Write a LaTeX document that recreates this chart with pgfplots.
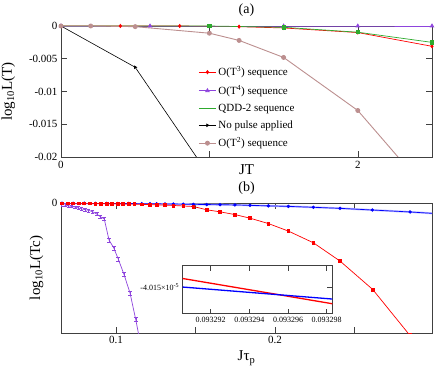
\documentclass[border=0pt]{standalone}
\usepackage{fontspec}
\setmainfont{Liberation Serif}
\usepackage{pgfplots}
\pgfplotsset{compat=1.18}
\definecolor{cred}{HTML}{FF0000}
\definecolor{cpurp}{HTML}{8E44DD}
\definecolor{cgreen}{HTML}{2EAA2E}
\definecolor{cpink}{HTML}{BC8F8F}
\definecolor{cblue}{HTML}{0000FF}
\definecolor{frame}{HTML}{404040}

% panel (b): blue series
\pgfplotstableread{
x y
0.0660 -0.001
0.0730 -0.002
0.0800 -0.002
0.0870 -0.003
0.0940 -0.003
0.1010 -0.004
0.1080 -0.004
0.1162 -0.005
0.1214 -0.005
0.1256 -0.006
0.1308 -0.007
0.1360 -0.008
0.1423 -0.009
0.1486 -0.010
0.1570 -0.012
0.1654 -0.013
0.1748 -0.015
0.1843 -0.018
0.1958 -0.022
0.2084 -0.026
0.2241 -0.033
0.2409 -0.041
0.2612 -0.054
0.2849 -0.069
0.3100 -0.088
}\blueB

\tikzset{twoend/.style={legend image code/.code={%
  \draw[mark repeat=1,#1] plot coordinates {(0pt,0pt) (16pt,0pt)};}}}
\pgfplotsset{every axis title shift=0pt,
  /pgf/number format/assume math mode=true}

\begin{document}
\begin{tikzpicture}[x=1pt,y=1pt]
\useasboundingbox (0,0) rectangle (436,370);

% ---------------- (a) ----------------
\begin{axis}[at={(61pt,213pt)}, anchor=south west, scale only axis,
  width=371pt, height=131pt,
  xmin=0, xmax=2.5, ymin=-0.02, ymax=0,
  scaled y ticks=false, scaled x ticks=false,
  xtick={0,1,2}, xticklabels={0,,2},
  ytick={-0.02,-0.015,-0.01,-0.005,0},
  yticklabels={-0.02,-0.015,-0.01,-0.005,0},
  axis line style={frame, line width=0.7pt},
  tick style={frame, line width=0.6pt}, major tick length=6pt,
  tick label style={font=\fontsize{11}{12}\selectfont},
  xticklabel style={yshift=-1pt},
  xlabel={JT}, ylabel={log\textsubscript{10}L(T)},
  label style={font=\fontsize{15}{16}\selectfont},
  xlabel style={at={(axis description cs:0.5,-0.137)}, anchor=base},
  ylabel style={at={(axis description cs:-0.142,0.5)}, anchor=center},
  title={(a)}, title style={font=\fontsize{14}{15}\selectfont, at={(axis description cs:0.5,1)}, anchor=base, yshift=12pt},
  legend style={at={(axis description cs:0.37,0.705)}, anchor=north west, draw=none, fill=none,
    font=\fontsize{11}{12}\selectfont, row sep=4pt, inner sep=0pt},
  legend cell align=left,
]
\addplot[cred, line width=0.7pt, mark=diamond*, mark size=1.6pt, forget plot] coordinates {
(0,0) (0.4,0) (0.8,0) (1.2,-0.0001) (1.5,-0.0003) (2.0,-0.0010) (2.5,-0.0031)};
\addplot[cpurp, line width=0.7pt, mark=triangle*, mark size=2pt, forget plot] coordinates {
(0,0) (0.6,0) (1.5,0) (2.0,0) (2.5,0)};
\addplot[cgreen, line width=0.7pt, mark=square*, mark size=1.6pt, forget plot] coordinates {
(0,0) (1.0,0) (1.5,-0.0002) (2.0,-0.00095) (2.5,-0.0025)};
\addplot[black, line width=0.6pt, mark=triangle*, mark size=1.5pt, mark options={rotate=-90}, forget plot] coordinates {
(0,0) (0.5,-0.0063) (1.0,-0.0229)};
\addplot[cpink, line width=0.9pt, mark=*, mark size=2pt, forget plot] coordinates {
(0,0) (0.2,0) (0.5,-0.0001) (1.0,-0.0011) (1.2,-0.0022) (1.5,-0.0048) (2.0,-0.0129) (2.5,-0.026)};
\addlegendimage{twoend, cred, line width=0.7pt, mark=diamond*, mark size=1.6pt}
\addlegendentry{O(T\textsuperscript{3}) sequence}
\addlegendimage{twoend, cpurp, line width=0.7pt, mark=triangle*, mark size=2pt}
\addlegendentry{O(T\textsuperscript{4}) sequence}
\addlegendimage{twoend, cgreen, line width=0.7pt, no marks}
\addlegendentry{QDD-2 sequence}
\addlegendimage{twoend, black, line width=0.6pt, mark=triangle*, mark size=1.5pt, mark options={rotate=-90}}
\addlegendentry{No pulse applied}
\addlegendimage{twoend, cpink, line width=0.9pt, mark=*, mark size=2pt}
\addlegendentry{O(T\textsuperscript{2}) sequence}
\end{axis}

% ---------------- (b) ----------------
\begin{axis}[at={(61pt,37pt)}, anchor=south west, scale only axis,
  width=371pt, height=130pt,
  xmin=0.0654, xmax=0.2987, ymin=-1, ymax=0,
  scaled y ticks=false, scaled x ticks=false,
  xtick={0.1,0.2}, xticklabels={0.1,0.2},
  minor xtick={0.15,0.25},
  ytick={0}, yticklabels={0},
  axis line style={frame, line width=0.7pt},
  tick style={frame, line width=0.6pt}, major tick length=6pt, minor tick length=6pt,
  tick label style={font=\fontsize{11}{12}\selectfont},
  xlabel={Jτ\textsubscript{p}}, ylabel={log\textsubscript{10}L(Tc)},
  label style={font=\fontsize{15}{16}\selectfont},
  xlabel style={at={(axis description cs:0.5,-0.215)}, anchor=base},
  ylabel style={at={(axis description cs:-0.066,0.5)}, anchor=center},
  title={(b)}, title style={font=\fontsize{14}{15}\selectfont, at={(axis description cs:0.5,1)}, anchor=base, yshift=12pt},
]
\addplot[cblue!25, line width=2pt, no marks] table[x=x,y=y] {\blueB};
\addplot[cblue, line width=0.7pt, mark=*, mark size=1.3pt] table[x=x,y=y] {\blueB};
\addplot[cred, line width=0.7pt, mark=square*, mark size=1.4pt,
  error bars/.cd, y dir=both, y explicit, error mark options={cred, rotate=90, mark size=1.5pt}] coordinates {
(0.0660,-0.002) +- (0,0.004)
(0.0695,-0.002) +- (0,0.004)
(0.0730,-0.002) +- (0,0.004)
(0.0765,-0.003) +- (0,0.004)
(0.0800,-0.003) +- (0,0.004)
(0.0835,-0.003) +- (0,0.004)
(0.0870,-0.004) +- (0,0.004)
(0.0905,-0.004) +- (0,0.004)
(0.0940,-0.005) +- (0,0.004)
(0.0975,-0.005) +- (0,0.004)
(0.1010,-0.006) +- (0,0.004)
(0.1045,-0.007) +- (0,0.004)
(0.1080,-0.008) +- (0,0.004)
(0.1115,-0.009) +- (0,0.004)
(0.1162,-0.011) +- (0,0.004)
(0.1214,-0.012) +- (0,0.004)
(0.1256,-0.014) +- (0,0.004)
(0.1308,-0.016) +- (0,0.004)
(0.1360,-0.019) +- (0,0.004)
(0.1423,-0.023) +- (0,0.004)
(0.1486,-0.027) +- (0,0.005)
(0.1570,-0.052) +- (0,0.005)
(0.1654,-0.068) +- (0,0.005)
(0.1748,-0.089) +- (0,0.006)
(0.1843,-0.117) +- (0,0.007)
(0.1958,-0.158) +- (0,0.008)
(0.2084,-0.216) +- (0,0.009)
(0.2241,-0.306) +- (0,0.010)
(0.2409,-0.447) +- (0,0.011)
(0.2614,-0.665) +- (0,0.013)
(0.2849,-1.020) +- (0,0.015)
};
\addplot[cpurp, line width=0.7pt, no marks,
  error bars/.cd, y dir=both, y explicit, error mark options={cpurp, rotate=90, mark size=1.8pt}] coordinates {
(0.0658,-0.013) +- (0,0.010)
(0.0679,-0.015) +- (0,0.010)
(0.0700,-0.021) +- (0,0.010)
(0.0721,-0.026) +- (0,0.010)
(0.0742,-0.031) +- (0,0.010)
(0.0763,-0.038) +- (0,0.011)
(0.0784,-0.046) +- (0,0.011)
(0.0805,-0.051) +- (0,0.011)
(0.0826,-0.056) +- (0,0.011)
(0.0853,-0.067) +- (0,0.012)
(0.0879,-0.085) +- (0,0.012)
(0.0899,-0.103) +- (0,0.012)
(0.0926,-0.123) +- (0,0.013)
(0.0956,-0.285) +- (0,0.013)
(0.0986,-0.346) +- (0,0.014)
(0.1014,-0.431) +- (0,0.014)
(0.1050,-0.549) +- (0,0.015)
(0.1088,-0.692) +- (0,0.015)
(0.1124,-0.897) +- (0,0.016)
(0.1160,-1.120) +- (0,0.016)
};
\end{axis}

% ---------------- inset ----------------
\begin{axis}[at={(182.7pt,56.3pt)}, anchor=south west, scale only axis,
  width=149.6pt, height=48pt,
  xmin=0.09329055, xmax=0.09329829, ymin=-4.0160, ymax=-4.0142,
  scaled y ticks=false, scaled x ticks=false,
  xtick={0.093292,0.093294,0.093296,0.093298},
  xticklabels={0.093292,0.093294,0.093296,0.093298},
  ytick={-4.015}, yticklabels={-4.015×10\textsuperscript{-5}},
  axis background/.style={fill=white},
  axis line style={frame, line width=0.9pt},
  tick style={frame, line width=0.6pt}, major tick length=5pt,
  tick label style={font=\fontsize{8}{9}\selectfont},
]
\addplot[cred, line width=1.3pt, no marks] coordinates {(0.09329055,-4.01468) (0.09329829,-4.015626)};
\addplot[cblue, line width=1.3pt, no marks] coordinates {(0.09329055,-4.01500) (0.09329829,-4.01545)};
\end{axis}
\end{tikzpicture}
\end{document}
